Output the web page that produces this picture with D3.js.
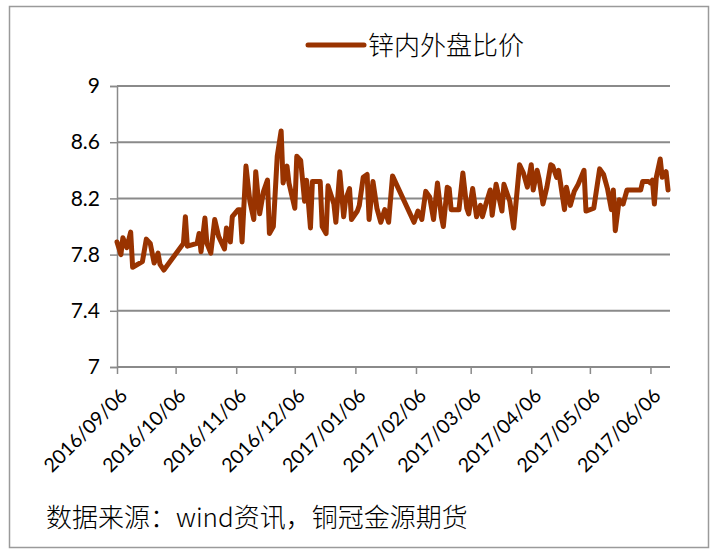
<!DOCTYPE html>
<html>
<head>
<meta charset="utf-8">
<script src="https://cdn.jsdelivr.net/npm/d3@7"></script>
<style>
  html, body { margin: 0; padding: 0; background: #fff; }
  svg { display: block; }
</style>
</head>
<body>
<svg id="chart" width="711" height="552"></svg>
<script>
// 锌内外盘比价 — dates and ratio values
const dates = [
  "2016-09-06","2016-09-08","2016-09-09","2016-09-11","2016-09-13","2016-09-14","2016-09-19","2016-09-21",
  "2016-09-23","2016-09-25","2016-09-27","2016-09-28","2016-09-30","2016-10-10","2016-10-11","2016-10-12",
  "2016-10-17","2016-10-18","2016-10-19","2016-10-21","2016-10-22","2016-10-24","2016-10-26","2016-10-28",
  "2016-10-31","2016-11-01","2016-11-03","2016-11-04","2016-11-07","2016-11-08","2016-11-09","2016-11-11",
  "2016-11-13","2016-11-15","2016-11-16","2016-11-18","2016-11-20","2016-11-22","2016-11-23","2016-11-25",
  "2016-11-27","2016-11-29","2016-11-30","2016-12-02","2016-12-03","2016-12-06","2016-12-07","2016-12-09",
  "2016-12-11","2016-12-12","2016-12-14","2016-12-15","2016-12-19","2016-12-20","2016-12-22","2016-12-23",
  "2016-12-26","2016-12-27","2016-12-29","2016-12-31","2017-01-01","2017-01-03","2017-01-04","2017-01-07",
  "2017-01-08","2017-01-10","2017-01-12","2017-01-13","2017-01-15","2017-01-17","2017-01-19","2017-01-21",
  "2017-01-23","2017-01-25","2017-02-05","2017-02-07","2017-02-09","2017-02-11","2017-02-13","2017-02-15",
  "2017-02-17","2017-02-19","2017-02-20","2017-02-22","2017-02-23","2017-02-24","2017-02-28","2017-03-02",
  "2017-03-04","2017-03-05","2017-03-07","2017-03-09","2017-03-11","2017-03-12","2017-03-14","2017-03-16",
  "2017-03-17","2017-03-19","2017-03-22","2017-03-23","2017-03-26","2017-03-28","2017-03-31","2017-04-02",
  "2017-04-04","2017-04-06","2017-04-07","2017-04-09","2017-04-10","2017-04-12","2017-04-14","2017-04-16",
  "2017-04-17","2017-04-19","2017-04-20","2017-04-23","2017-04-24","2017-04-26","2017-04-28","2017-04-30",
  "2017-05-03","2017-05-04","2017-05-08","2017-05-11","2017-05-13","2017-05-15","2017-05-17","2017-05-18",
  "2017-05-19","2017-05-21","2017-05-23","2017-05-25","2017-06-01","2017-06-02","2017-06-05","2017-06-06",
  "2017-06-07","2017-06-08","2017-06-09","2017-06-11","2017-06-12","2017-06-14","2017-06-15"
];
const ratio = [
  7.89,7.80,7.92,7.85,7.96,7.71,7.75,7.91,
  7.88,7.74,7.81,7.73,7.69,7.88,8.07,7.86,
  7.88,7.95,7.82,8.06,7.88,7.81,8.05,7.93,
  7.84,7.99,7.89,8.07,8.12,8.12,7.89,8.43,
  8.18,8.05,8.39,8.09,8.25,8.33,7.95,8.00,
  8.50,8.68,8.31,8.43,8.31,8.13,8.50,8.47,
  8.18,8.33,7.99,8.32,8.32,8.00,7.95,8.29,
  8.16,8.03,8.39,8.07,8.19,8.27,8.05,8.11,
  8.15,8.35,8.37,8.05,8.32,8.13,8.03,8.12,
  8.03,8.36,8.03,8.11,8.05,8.25,8.21,8.05,
  8.31,8.07,8.00,8.28,8.27,8.12,8.12,8.38,
  8.13,8.09,8.27,8.07,8.15,8.07,8.17,8.26,
  8.08,8.30,8.11,8.30,8.18,7.99,8.44,8.38,
  8.28,8.44,8.26,8.40,8.34,8.16,8.28,8.44,
  8.43,8.35,8.40,8.12,8.28,8.15,8.25,8.30,
  8.40,8.11,8.13,8.41,8.37,8.27,8.12,8.26,
  7.97,8.19,8.16,8.26,8.26,8.32,8.32,8.31,
  8.33,8.16,8.35,8.48,8.35,8.39,8.26
];
const xTickLabels = [
  "2016/09/06","2016/10/06","2016/11/06","2016/12/06","2017/01/06",
  "2017/02/06","2017/03/06","2017/04/06","2017/05/06","2017/06/06"
];
const yTicks = [7, 7.4, 7.8, 8.2, 8.6, 9];
const seriesName = "锌内外盘比价";
const sourceNote = "数据来源：wind资讯，铜冠金源期货";

const parse = d3.timeParse("%Y-%m-%d");
const parseTick = d3.timeParse("%Y/%m/%d");
const points = dates.map((d, i) => ({ date: parse(d), value: ratio[i] }));
const tickDates = xTickLabels.map(parseTick);

const svg = d3.select("#chart");
const W = 711, H = 552;
const plot = { left: 117, right: 670, top: 86, bottom: 367 };

svg.append("rect").attr("width", W).attr("height", H).attr("fill", "#fff");
svg.append("rect")
  .attr("x", 9.5).attr("y", 6.5).attr("width", 699).attr("height", 541)
  .attr("fill", "none").attr("stroke", "#9a9a9a").attr("stroke-width", 1.5);

const x = d3.scaleTime()
  .domain([parse("2016-09-06"), parse("2017-06-16")])
  .range([plot.left, plot.right]);
const y = d3.scaleLinear().domain([7, 9]).range([plot.bottom, plot.top]);

const gridColor = "#8a8a8a";
const labelFont = "Lato, 'Liberation Sans', sans-serif";

// horizontal gridlines + y axis
const yAxis = d3.axisLeft(y).tickValues(yTicks).tickSize(7).tickPadding(10)
  .tickFormat(d3.format("~g"));
const gy = svg.append("g").attr("transform", `translate(${plot.left},0)`).call(yAxis);
gy.select(".domain").attr("stroke", gridColor).attr("stroke-width", 1.5);
gy.selectAll(".tick line").attr("stroke", gridColor).attr("stroke-width", 1.5);
gy.selectAll(".tick text").attr("font-family", labelFont).attr("font-size", 21).attr("fill", "#000");

svg.append("g").selectAll("line").data(yTicks).join("line")
  .attr("x1", plot.left).attr("x2", plot.right)
  .attr("y1", d => y(d)).attr("y2", d => y(d))
  .attr("stroke", gridColor).attr("stroke-width", 2);

// x axis
const xAxis = d3.axisBottom(x).tickValues(tickDates).tickSize(7)
  .tickFormat(d3.timeFormat("%Y/%m/%d"));
const gx = svg.append("g").attr("transform", `translate(0,${plot.bottom})`).call(xAxis);
gx.select(".domain").remove();
gx.selectAll(".tick line").attr("stroke", gridColor).attr("stroke-width", 1.5);
gx.selectAll(".tick text")
  .attr("font-family", labelFont).attr("font-size", 19.5).attr("fill", "#000")
  .attr("text-anchor", "end")
  .attr("dy", null)
  .attr("y", 0)
  .attr("transform", "translate(11,30) rotate(-45)");

// series line
const line = d3.line().x(d => x(d.date)).y(d => y(d.value));
svg.append("path").datum(points)
  .attr("d", line)
  .attr("fill", "none")
  .attr("stroke", "#993300")
  .attr("stroke-width", 5)
  .attr("stroke-linejoin", "round")
  .attr("stroke-linecap", "round");

// legend
const lg = svg.append("g");
lg.append("line").attr("x1", 308).attr("x2", 364).attr("y1", 45).attr("y2", 45)
  .attr("stroke", "#993300").attr("stroke-width", 5).attr("stroke-linecap", "round");
lg.append("text").attr("x", 368).attr("y", 55)
  .attr("font-family", "'Noto Sans CJK SC', sans-serif").attr("font-size", 26)
  .attr("font-weight", 300)
  .attr("fill", "#000").text(seriesName);

// source note
svg.append("text").attr("x", 46).attr("y", 527)
  .attr("font-family", "'Noto Sans CJK SC', sans-serif").attr("font-size", 26)
  .attr("font-weight", 300)
  .attr("fill", "#000").text(sourceNote);
</script>
</body>
</html>
